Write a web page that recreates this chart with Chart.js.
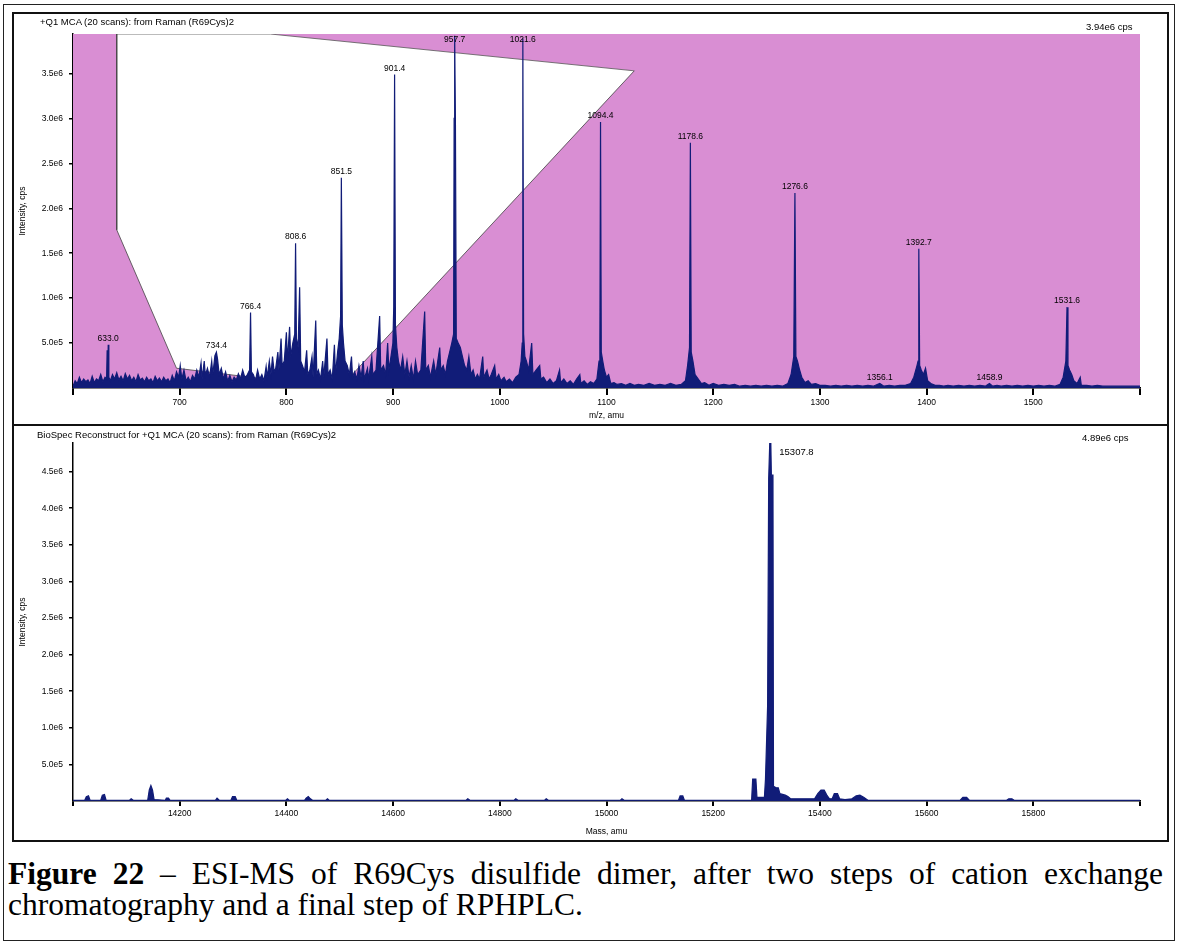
<!DOCTYPE html>
<html>
<head>
<meta charset="utf-8">
<script src="https://cdn.jsdelivr.net/npm/chart.js@4.4.1/dist/chart.umd.min.js"></script>
<style>
  body { margin: 0; background: #fff; width: 1180px; height: 944px; position: relative; overflow: hidden; font-family: "Liberation Sans", Arial, sans-serif; }
  .frame-outer { position: absolute; left: 3px; top: 4px; width: 1172px; height: 937px; border: 1px solid #222; box-sizing: border-box; }
  .frame-inner { position: absolute; left: 12px; top: 12px; width: 1157px; height: 830px; border: 2px solid #111; box-sizing: border-box; }
  .divider { position: absolute; left: 12px; top: 424px; width: 1157px; height: 2px; background: #111; }
  canvas { position: absolute; }
  .hdr { position: absolute; font-size: 9.5px; color: #000; white-space: nowrap; }
  .caption { position: absolute; left: 8px; top: 858px; width: 1155px; font-family: "Liberation Serif", "Times New Roman", serif; font-size: 31.5px; line-height: 31px; text-align: justify; color: #000; }
</style>
</head>
<body>
<div class="frame-outer"></div>
<div class="frame-inner"></div>
<div class="divider"></div>

<canvas id="ms-canvas" width="1153" height="410" style="left:14px; top:14px;"></canvas>
<canvas id="recon-canvas" width="1153" height="414" style="left:14px; top:426px;"></canvas>

<div class="hdr" style="left:40px; top:16px;">+Q1 MCA (20 scans): from Raman (R69Cys)2</div>
<div class="hdr" style="left:1086px; top:21px;">3.94e6 cps</div>
<div class="hdr" style="left:37px; top:429px;">BioSpec Reconstruct for +Q1 MCA (20 scans): from Raman (R69Cys)2</div>
<div class="hdr" style="left:1082px; top:432px;">4.89e6 cps</div>

<div class="caption"><b>Figure 22</b> – ESI-MS of R69Cys disulfide dimer, after two steps of cation exchange chromatography and a final step of RPHPLC.</div>

<script>
// intensities in units of 1e6 cps
const topMax = 3.94;
const bottomMax = 4.89;

// m/z spectrum [m/z, intensity]
const topSpectrum = [
  [600,0.02],[602,0.08],[604,0.05],[606,0.12],[608,0.06],[610,0.1],[612,0.07],[614,0.09],[616,0.05],[618,0.13],
  [620,0.06],[622,0.1],[624,0.08],[626,0.15],[628,0.07],[630,0.12],[631.5,0.1],[632,0.42],[632.6,0.1],[633,0.48],
  [633.6,0.12],[635,0.08],[637,0.15],[639,0.1],[641,0.17],[643,0.09],[645,0.13],[647,0.08],[649,0.16],[651,0.1],
  [653,0.14],[655,0.08],[657,0.12],[659,0.07],[661,0.15],[663,0.09],[665,0.11],[667,0.07],[669,0.12],[671,0.08],
  [673,0.1],[675,0.06],[677,0.13],[679,0.08],[681,0.11],[683,0.07],[685,0.12],[687,0.08],[689,0.1],[691,0.06],
  [693,0.14],[695,0.08],[697,0.18],[699,0.12],[700.5,0.25],[702,0.1],[704,0.2],[706,0.08],[708,0.12],[710,0.07],
  [712,0.14],[714,0.1],[716,0.2],[718,0.12],[720,0.28],[721,0.1],[723,0.3],[724,0.14],[726,0.22],[728,0.12],
  [730,0.3],[731,0.15],[733,0.36],[734.4,0.4],[735.5,0.32],[737,0.15],[739,0.22],[741,0.1],[743,0.18],[745,0.08],
  [747,0.14],[749,0.07],[751,0.12],[753,0.09],[755,0.16],[757,0.1],[759,0.2],[761,0.12],[763,0.14],[765.5,0.2],
  [766.4,0.84],[767.2,0.18],[769,0.15],[771,0.08],[773,0.2],[775,0.1],[777,0.15],[779,0.08],[781,0.24],[782,0.12],
  [784,0.3],[785.5,0.15],[787,0.35],[788.5,0.18],[790,0.22],[792,0.4],[793,0.2],[795,0.55],[796,0.25],[798,0.3],
  [800,0.62],[801,0.3],[803,0.68],[804,0.35],[806,0.5],[807.8,0.6],[808.6,1.61],[809.4,0.55],[811,0.45],[812.4,1.12],
  [813.4,0.3],[815,0.25],[817,0.18],[819,0.42],[820,0.15],[822,0.2],[824,0.35],[825,0.12],[827.5,0.75],[828.5,0.15],
  [830,0.2],[832,0.1],[834,0.3],[835,0.12],[838,0.55],[839,0.15],[841,0.2],[843,0.1],[845,0.48],[846,0.15],
  [848,0.4],[849.5,0.55],[850.8,0.8],[851.5,2.34],[852.4,0.7],[853.5,0.5],[855,0.3],[857,0.25],[859,0.15],[861,0.35],
  [862,0.12],[864,0.18],[866,0.1],[868,0.25],[870,0.12],[872,0.3],[873,0.1],[876,0.22],[877,0.1],[880,0.35],
  [881,0.15],[884,0.2],[887.4,0.8],[888.4,0.2],[891,0.25],[893,0.15],[894.9,0.5],[896,0.2],[898,0.35],[899.8,0.5],
  [900.6,0.9],[901.4,3.49],[902.2,0.7],[903.5,0.45],[905,0.3],[907,0.2],[909,0.35],[911,0.15],[913,0.3],[915,0.12],
  [917,0.25],[919,0.1],[921,0.3],[923,0.15],[926,0.2],[929.6,0.85],[930.6,0.2],[933,0.25],[935,0.12],[938,0.3],
  [940,0.15],[943.7,0.45],[944.7,0.2],[947,0.25],[949,0.15],[951,0.3],[953,0.4],[955,0.5],[956.7,0.6],[957.2,3.0],
  [957.7,3.92],[958.4,3.0],[959.2,0.55],[961,0.5],[963,0.45],[965,0.35],[967,0.25],[969,0.2],[971,0.35],[973,0.15],
  [975,0.2],[977,0.1],[979,0.15],[981,0.1],[984,0.35],[985,0.12],[988,0.2],[990,0.1],[992,0.15],[995.2,0.25],
  [996.5,0.1],[999,0.15],[1001,0.08],[1004,0.12],[1006,0.07],[1009,0.1],[1012,0.06],[1015,0.12],[1018,0.15],[1020,0.3],
  [1021,0.5],[1021.6,3.89],[1022.3,0.6],[1023.5,0.35],[1025,0.3],[1027,0.2],[1029.9,0.5],[1031,0.15],[1034,0.2],[1037.4,0.25],
  [1038.5,0.1],[1041,0.12],[1044,0.06],[1047,0.1],[1050,0.05],[1053,0.08],[1056,0.2],[1057,0.06],[1060,0.1],[1063,0.05],
  [1066,0.08],[1069,0.04],[1072,0.1],[1075,0.15],[1076,0.05],[1079,0.08],[1082,0.04],[1085,0.07],[1088,0.05],[1091,0.1],
  [1093,0.3],[1093.8,0.5],[1094.4,2.96],[1095.1,0.4],[1096.5,0.3],[1098,0.2],[1100,0.12],[1102,0.15],[1104,0.05],[1107,0.06],
  [1110,0.04],[1114,0.05],[1118,0.03],[1122,0.05],[1126,0.03],[1130,0.04],[1135,0.03],[1140,0.05],[1145,0.03],[1150,0.04],
  [1155,0.03],[1160,0.05],[1165,0.03],[1170,0.04],[1174,0.08],[1176,0.25],[1177.8,0.45],[1178.6,2.73],[1179.4,0.4],[1181,0.3],
  [1183,0.15],[1186,0.1],[1189,0.05],[1192,0.06],[1196,0.03],[1200,0.05],[1205,0.03],[1210,0.04],[1215,0.03],[1220,0.04],
  [1225,0.02],[1230,0.03],[1235,0.02],[1240,0.03],[1245,0.02],[1250,0.03],[1255,0.02],[1260,0.03],[1265,0.02],[1270,0.05],
  [1273,0.15],[1275.5,0.35],[1276.6,2.17],[1277.5,0.35],[1279,0.3],[1281,0.2],[1283,0.12],[1286,0.06],[1289,0.08],[1292,0.04],
  [1296,0.05],[1300,0.03],[1305,0.03],[1310,0.02],[1315,0.03],[1320,0.02],[1325,0.03],[1330,0.02],[1335,0.03],[1340,0.02],
  [1345,0.03],[1350,0.02],[1356.1,0.05],[1360,0.02],[1365,0.03],[1370,0.02],[1375,0.03],[1380,0.03],[1385,0.05],[1388,0.12],
  [1391,0.25],[1392,0.3],[1392.7,1.55],[1393.5,0.25],[1395,0.2],[1397,0.15],[1399,0.22],[1401,0.08],[1404,0.05],[1408,0.03],
  [1412,0.03],[1416,0.02],[1420,0.03],[1425,0.02],[1430,0.03],[1435,0.02],[1440,0.03],[1445,0.02],[1450,0.03],[1455,0.02],
  [1458.9,0.05],[1462,0.02],[1466,0.03],[1470,0.02],[1475,0.03],[1480,0.02],[1485,0.03],[1490,0.02],[1495,0.03],[1500,0.02],
  [1505,0.03],[1510,0.02],[1515,0.03],[1520,0.02],[1525,0.04],[1528,0.12],[1530.5,0.3],[1531.6,0.9],[1532.5,0.25],[1534,0.2],
  [1536,0.15],[1538,0.08],[1541,0.05],[1544,0.12],[1545,0.03],[1550,0.03],[1555,0.02],[1560,0.03],[1565,0.02],[1570,0.02],
  [1575,0.02],[1580,0.02],[1585,0.02],[1590,0.02],[1595,0.02],[1600,0.02]
];

// peak labels [text, m/z, height]
const topPeakLabels = [
  ['633.0', 633.0, 0.48], ['734.4', 734.4, 0.4], ['766.4', 766.4, 0.84], ['808.6', 808.6, 1.61],
  ['851.5', 851.5, 2.34], ['901.4', 901.4, 3.49], ['957.7', 957.7, 3.92], ['1021.6', 1021.6, 3.89],
  ['1094.4', 1094.4, 2.96], ['1178.6', 1178.6, 2.73], ['1276.6', 1276.6, 2.17], ['1356.1', 1356.1, 0.05],
  ['1392.7', 1392.7, 1.55], ['1458.9', 1458.9, 0.05], ['1531.6', 1531.6, 0.9]
];

// magenta background band and the white gap cut out of it (m/z, intensity)
const pinkBand = [[600, 3.94], [1600, 3.94]];
const gapUpper = [[641, 3.94], [785, 3.94], [1126, 3.53]];
const gapLower = [[641, 3.94], [641, 1.76], [697, 0.22], [850, 0], [1126, 3.53]];

// reconstructed mass spectrum [mass, intensity]
const bottomSpectrum = [
  [14000,0.01],[14022,0.01],[14025,0.06],[14029,0.07],[14032,0.01],[14052,0.01],[14055,0.08],[14059,0.09],[14062,0.01],
  [14106,0.01],[14109,0.03],[14113,0.01],[14140,0.01],[14143,0.15],[14146,0.21],[14149,0.15],[14152,0.02],[14173,0.01],
  [14175,0.04],[14179,0.04],[14182,0.01],[14267,0.01],[14270,0.04],[14274,0.01],[14296,0.01],[14299,0.06],[14304,0.06],
  [14307,0.01],[14399,0.01],[14402,0.03],[14405,0.01],[14434,0.01],[14437,0.04],[14441,0.06],[14445,0.03],[14449,0.01],
  [14474,0.01],[14477,0.03],[14480,0.01],[14737,0.01],[14740,0.03],[14744,0.01],[14827,0.01],[14830,0.03],[14834,0.01],
  [14884,0.01],[14887,0.03],[14891,0.01],[15026,0.01],[15029,0.03],[15033,0.01],[15135,0.01],[15138,0.07],[15143,0.07],
  [15146,0.01],[15272,0.01],[15274,0.3],[15280,0.3],[15282,0.05],[15296,0.05],[15298,0.3],[15302,1.3],[15304,4.4],
  [15306,4.89],[15308,4.89],[15309,4.45],[15312,4.45],[15313,0.2],[15318,0.18],[15322,0.18],[15325,0.1],[15335,0.08],
  [15340,0.06],[15345,0.03],[15390,0.03],[15396,0.1],[15402,0.15],[15408,0.15],[15413,0.08],[15418,0.03],[15423,0.03],
  [15427,0.1],[15433,0.1],[15437,0.03],[15447,0.02],[15460,0.03],[15468,0.07],[15475,0.08],[15482,0.05],[15490,0.01],
  [15663,0.01],[15668,0.05],[15675,0.05],[15680,0.01],[15750,0.01],[15754,0.03],[15760,0.03],[15764,0.01],[16000,0.01]
];
const bottomPeakLabels = [['15307.8', 15307, 4.89]];

const NAVY = '#111c78';
const PINK = '#d98ed3';
const FONT = '"Liberation Sans", Arial, sans-serif';

const toPoints = (arr) => arr.map(([x, y]) => ({ x, y }));

// draws peak annotations at data positions
const peakLabelPlugin = {
  id: 'peakLabels',
  afterDatasetsDraw(chart, args, opts) {
    const { ctx, chartArea } = chart;
    const xs = chart.scales.x, ys = chart.scales.y;
    ctx.save();
    ctx.font = opts.font;
    ctx.fillStyle = '#000';
    ctx.textAlign = opts.align;
    ctx.textBaseline = opts.baseline;
    opts.items.forEach(([text, xv, yv]) => {
      const px = xs.getPixelForValue(xv) + opts.dx;
      let py = ys.getPixelForValue(yv) + opts.dy;
      if (opts.clampTop) py = Math.max(py, chartArea.top + 10);
      ctx.fillText(text, px, py);
    });
    ctx.restore();
  }
};

function makeScales(xMin, xMax, xStep, yMax, xTitle, xHeight, xTick) {
  return {
    x: {
      type: 'linear', min: xMin, max: xMax, z: 1,
      afterFit: (s) => { s.height = xHeight; },
      border: { color: '#000', width: 1.5 },
      grid: { drawOnChartArea: false, tickLength: xTick, color: '#000', lineWidth: 2 },
      ticks: {
        stepSize: xStep, autoSkip: false, maxRotation: 0, padding: 3, includeBounds: false,
        color: '#000', font: { size: 8.5, family: FONT },
        callback: (v) => (v === xMin || v === xMax) ? '' : String(v)
      },
      title: { display: true, text: xTitle, color: '#000', font: { size: 8.5, family: FONT }, padding: { top: 0, bottom: 3 } }
    },
    y: {
      type: 'linear', min: 0, max: yMax, z: 1,
      afterFit: (s) => { s.width = 59; },
      afterBuildTicks: (s) => {
        s.ticks = s.ticks.filter((t) => t.value > 0 && Math.abs(t.value * 2 - Math.round(t.value * 2)) < 1e-9);
      },
      border: { color: '#000', width: 1.5 },
      grid: { drawOnChartArea: false, tickLength: 4, color: '#000', lineWidth: 1.5 },
      ticks: {
        stepSize: 0.5, includeBounds: false, padding: 6, color: '#000', font: { size: 8.5, family: FONT },
        callback: (v) => v < 1 ? (v * 10).toFixed(1) + 'e5' : v.toFixed(1) + 'e6'
      },
      title: { display: true, text: 'Intensity, cps', color: '#000', font: { size: 8.5, family: FONT }, padding: { top: 4, bottom: 2 } }
    }
  };
}

const baseOptions = {
  responsive: false,
  animation: false,
  devicePixelRatio: 1,
  elements: { point: { radius: 0 }, line: { tension: 0 } }
};

new Chart(document.getElementById('ms-canvas'), {
  type: 'line',
  data: {
    datasets: [
      { data: toPoints(topSpectrum), borderColor: NAVY, backgroundColor: NAVY, borderWidth: 1.2, fill: 'origin', order: 0 },
      { data: toPoints(gapUpper), borderColor: '#555', backgroundColor: '#fff', borderWidth: 0.8, fill: '+1', order: 2 },
      { data: toPoints(gapLower), borderColor: '#444', borderWidth: 0.8, fill: false, order: 1 },
      { data: toPoints(pinkBand), borderWidth: 0, backgroundColor: PINK, fill: 'origin', order: 3 }
    ]
  },
  options: {
    ...baseOptions,
    layout: { padding: { top: 20, right: 27, left: 0, bottom: 0 } },
    plugins: {
      legend: { display: false },
      tooltip: { enabled: false },
      peakLabels: { items: topPeakLabels, font: '8.5px ' + FONT, align: 'center', baseline: 'bottom', dx: 0, dy: -2, clampTop: true }
    },
    scales: makeScales(600, 1600, 100, topMax, 'm/z, amu', 36, 7)
  },
  plugins: [peakLabelPlugin]
});

new Chart(document.getElementById('recon-canvas'), {
  type: 'line',
  data: {
    datasets: [
      { data: toPoints(bottomSpectrum), borderColor: NAVY, backgroundColor: NAVY, borderWidth: 1.2, fill: 'origin' }
    ]
  },
  options: {
    ...baseOptions,
    layout: { padding: { top: 17, right: 27, left: 0, bottom: 0 } },
    plugins: {
      legend: { display: false },
      tooltip: { enabled: false },
      peakLabels: { items: bottomPeakLabels, font: '9.5px ' + FONT, align: 'left', baseline: 'middle', dx: 9, dy: 9, clampTop: false }
    },
    scales: makeScales(14000, 16000, 200, bottomMax, 'Mass, amu', 39, 5)
  },
  plugins: [peakLabelPlugin]
});
</script>
</body>
</html>
